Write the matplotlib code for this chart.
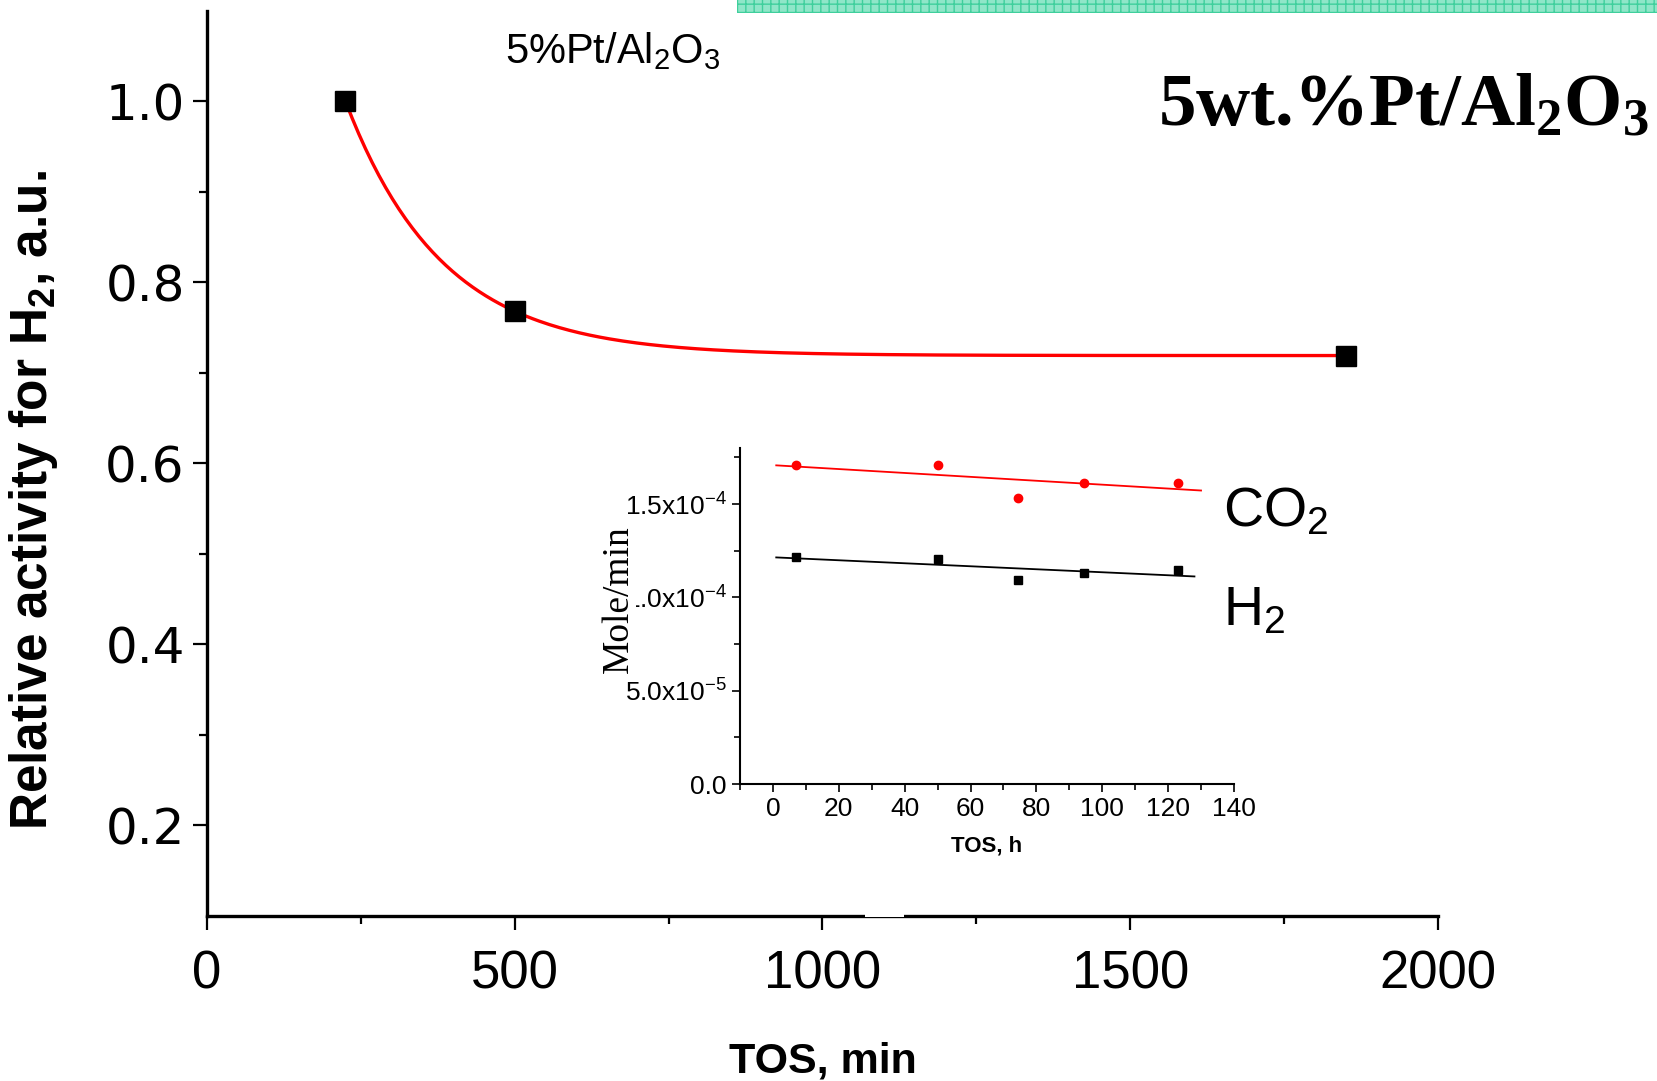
import numpy as np
import matplotlib
matplotlib.use('Agg')
import matplotlib.pyplot as plt
from matplotlib.patches import Rectangle

plt.rcParams['font.family'] = ['Liberation Sans', 'DejaVu Sans']
plt.rcParams['mathtext.default'] = 'regular'

# main data: relative H2 activity vs time on stream
tos_min = [225, 500, 1850]
rel_act = [1.0, 0.768, 0.719]

# inset data: rates vs time on stream (h)
tos_h = [7.0, 50.0, 74.4, 94.4, 122.9]
co2_rate = [1.707e-4, 1.711e-4, 1.532e-4, 1.614e-4, 1.614e-4]
h2_rate = [1.217e-4, 1.208e-4, 1.092e-4, 1.131e-4, 1.147e-4]

main_xticks = [0, 500, 1000, 1500, 2000]
main_yticks = [0.2, 0.4, 0.6, 0.8, 1.0]
inset_xticks = [0, 20, 40, 60, 80, 100, 120, 140]
inset_yticks = [0.0, 5.0e-5, 1.0e-4, 1.5e-4]
inset_ylabels = ['0.0', '5.0x10$^{-5}$', '1.0x10$^{-4}$', '1.5x10$^{-4}$']

W, H = 1657, 1081
fig = plt.figure(figsize=(W / 100, H / 100), dpi=100)

# teal bar at top
fig.patches.append(Rectangle((0.445, 0.988), 0.56, 0.02, transform=fig.transFigure,
                             facecolor='#8fe6c8', edgecolor='#3fcf9c', hatch='++',
                             linewidth=0, zorder=0))

ax = fig.add_axes([0.1249, 0.1526, 0.7429, 0.8376])
for s in ['top', 'right']:
    ax.spines[s].set_visible(False)
for s in ['left', 'bottom']:
    ax.spines[s].set_linewidth(2.4)

# exponential decay fit  y = y0 + A*exp(-x/t)
x = np.array(tos_min, float)
y = np.array(rel_act, float)
best = None
for t in np.linspace(50, 1000, 2000):
    M = np.column_stack([np.ones_like(x), np.exp(-x / t)])
    c, *_ = np.linalg.lstsq(M, y, rcond=None)
    err = np.sum((M @ c - y) ** 2)
    if best is None or err < best[0]:
        best = (err, t, c)
_, t, c = best
xf = np.linspace(x.min(), x.max(), 300)
ax.plot(xf, c[0] + c[1] * np.exp(-xf / t), color='red', lw=2.4, zorder=2)
ax.plot(tos_min, rel_act, 's', color='black', ms=14, zorder=3)

ax.set_xlim(0, 2000)
ax.set_ylim(0.1, 1.1)
ax.set_xticks(main_xticks)
ax.set_xticks([250, 750, 1250, 1750], minor=True)
ax.set_yticks(main_yticks)
ax.set_yticks([0.3, 0.5, 0.7, 0.9], minor=True)
ax.tick_params(axis='both', which='major', length=10, width=1.6, direction='out')
ax.tick_params(axis='both', which='minor', length=6, width=1.6, direction='out')
ax.tick_params(axis='x', labelsize=38, pad=14)
ax.set_yticklabels(['%.1f' % v for v in main_yticks], family=['DejaVu Sans'],
                   fontsize=36)
ax.tick_params(axis='y', pad=6)
ax.set_xlabel('TOS, min', fontsize=31, fontweight='bold', labelpad=30)
ax.set_ylabel('Relative activity for H$_2$, a.u.', fontsize=37, fontweight='bold')
ax.yaxis.set_label_coords(-0.119, 0.459)

# white gap on x axis
fig.patches.append(Rectangle((865 / W, 1 - 916.5 / H), 39 / W, 3.5 / H,
                             transform=fig.transFigure, facecolor='white',
                             edgecolor='none', zorder=5))

fig.text(505 / W, 1 - 51 / H, '5%Pt/Al$_2$O$_3$', fontsize=30,
         ha='left', va='center')
fig.text(0.995, 1 - 107 / H, '5wt.%Pt/Al$_2$O$_3$', fontsize=54,
         fontweight='bold', family=['Liberation Serif'], ha='right', va='center')

# inset
axi = fig.add_axes([0.4466, 0.2747, 0.2981, 0.3108])
for s in ['top', 'right']:
    axi.spines[s].set_visible(False)
for s in ['left', 'bottom']:
    axi.spines[s].set_linewidth(1.5)
hx = np.array(tos_h)
pc = np.polyfit(hx, co2_rate, 1)
ph = np.polyfit(hx, h2_rate, 1)
xc = np.array([1, 130])
xh = np.array([1, 128])
axi.plot(xc, np.polyval(pc, xc), color='red', lw=1.3)
axi.plot(xh, np.polyval(ph, xh), color='black', lw=1.3)
axi.plot(tos_h, co2_rate, 'o', color='red', ms=6)
axi.plot(tos_h, h2_rate, 's', color='black', ms=5.5)
axi.set_xlim(-10, 140)
axi.set_ylim(0, 1.8e-4)
axi.set_xticks(inset_xticks)
axi.set_xticks(np.arange(-10, 140, 20), minor=True)
axi.set_yticks(inset_yticks)
axi.set_yticklabels(inset_ylabels)
axi.set_yticks([2.5e-5, 7.5e-5, 1.25e-4, 1.75e-4], minor=True)
axi.tick_params(which='major', length=6, width=1.2, labelsize=19, direction='out')
axi.tick_params(which='minor', length=4, width=1.2, direction='out')
axi.set_xlabel('TOS, h', fontsize=16, fontweight='bold', labelpad=10)
axi.text(-0.245, 0.55, 'Mole/min', transform=axi.transAxes, rotation=90,
         fontsize=27, family=['Liberation Serif'], ha='center', va='center',
         bbox=dict(facecolor='white', edgecolor='none', pad=0))
fig.text(1157 * 1.0568 / W, 1 - 485 * 1.0568 / H, 'CO$_2$', fontsize=40,
         ha='left', va='center')
fig.text(1157 * 1.0568 / W, 1 - 578 * 1.0568 / H, 'H$_2$', fontsize=40,
         ha='left', va='center')

fig.savefig('out.png', dpi=100)
